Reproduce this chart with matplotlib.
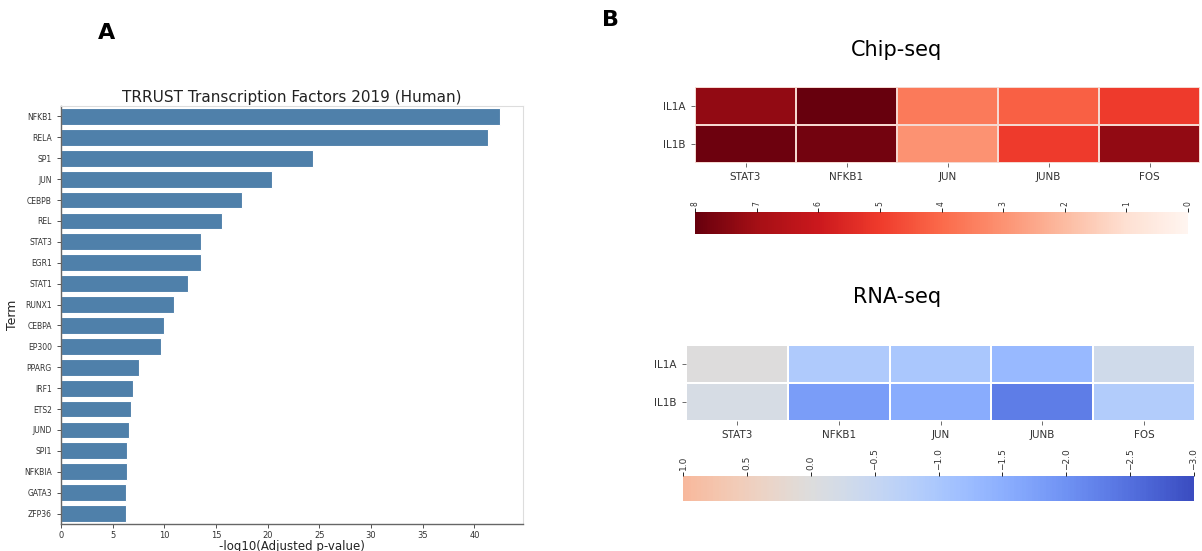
import numpy as np
import matplotlib
matplotlib.use('Agg')
import matplotlib.pyplot as plt
from matplotlib.colors import ListedColormap

# --- data ---
terms = ['NFKB1', 'RELA', 'SP1', 'JUN', 'CEBPB', 'REL', 'STAT3', 'EGR1', 'STAT1',
         'RUNX1', 'CEBPA', 'EP300', 'PPARG', 'IRF1', 'ETS2', 'JUND', 'SPI1',
         'NFKBIA', 'GATA3', 'ZFP36']
neglog_p = [42.5, 41.3, 24.4, 20.4, 17.5, 15.6, 13.5, 13.5, 12.25, 10.9,
            9.98, 9.66, 7.56, 6.98, 6.75, 6.62, 6.4, 6.37, 6.33, 6.3]

tfs = ['STAT3', 'NFKB1', 'JUN', 'JUNB', 'FOS']
genes = ['IL1A', 'IL1B']
chip_vals = [[7.3, 8.0, 3.6, 4.2, 5.0],
             [7.9, 7.8, 3.0, 5.0, 7.3]]
rna_vals = [[0.0, -0.9, -1.0, -1.3, -0.3],
            [-0.15, -1.8, -1.55, -2.3, -0.85]]

W, H = 1202, 551
fig = plt.figure(figsize=(W / 100, H / 100), dpi=100)


def box(x0, y0, x1, y1):
    # pixel box (top-left origin) -> figure fraction rect
    return [x0 / W, 1 - y1 / H, (x1 - x0) / W, (y1 - y0) / H]


# --- panel A: bar chart ---
ax = fig.add_axes(box(61, 106, 523, 524))
y = np.arange(len(terms))
ax.barh(y, neglog_p, height=0.8, color='#4f80aa', edgecolor='white', linewidth=0.8)
ax.set_yticks(y)
ax.set_yticklabels(terms, fontsize=5.5, color='#333333')
ax.set_ylim(len(terms) - 0.5, -0.5)
ax.set_xlim(0, 44.7)
ax.set_xticks(range(0, 45, 5))
ax.tick_params(axis='x', labelsize=6, colors='#333333', length=3, width=0.6, pad=2)
ax.tick_params(axis='y', length=3, width=0.6, colors='#333333')
ax.set_xlabel('-log10(Adjusted p-value)', fontsize=8.5, labelpad=0, color='#222222')
ax.set_ylabel('Term', fontsize=9, color='#222222')
ax.set_title('TRRUST Transcription Factors 2019 (Human)', fontsize=11, pad=3, color='#222222')
for s in ['top', 'right']:
    ax.spines[s].set_color('#dddddd')
for s in ['bottom', 'left']:
    ax.spines[s].set_color('#666666')
    ax.spines[s].set_linewidth(1.0)

fig.text(107 / W, 1 - 33 / H, 'A', fontsize=16, fontweight='bold', ha='center', va='center')
fig.text(611 / W, 1 - 20 / H, 'B', fontsize=16, fontweight='bold', ha='center', va='center')


def heat(rect, cbar_rect, vals, cmap, vmin, vmax, ticks, ticklabels, cb_fs, grid_color):
    hax = fig.add_axes(rect)
    im = hax.pcolormesh(np.array(vals), cmap=cmap, vmin=vmin, vmax=vmax,
                        edgecolors=grid_color, linewidth=1.2)
    hax.set_xlim(0, len(tfs))
    hax.set_ylim(len(genes), 0)
    hax.set_xticks(np.arange(len(tfs)) + 0.5)
    hax.set_xticklabels(tfs, fontsize=7.5, color='#333333')
    hax.set_yticks(np.arange(len(genes)) + 0.5)
    hax.set_yticklabels(genes, fontsize=7.5, color='#333333')
    hax.tick_params(length=3, width=0.6, colors='#555555', labelcolor='#333333')
    for s in hax.spines.values():
        s.set_visible(False)
    cax = fig.add_axes(cbar_rect)
    cb = fig.colorbar(im, cax=cax, orientation='horizontal')
    cb.outline.set_visible(False)
    cax.xaxis.set_ticks_position('top')
    cax.set_xticks(ticks)
    cax.set_xticklabels(ticklabels, rotation=90, fontsize=cb_fs, color='#333333')
    cax.tick_params(length=3, width=0.6, pad=1.5)
    cax.invert_xaxis()
    return hax


# --- panel B top: Chip-seq ---
fig.text(897 / W, 1 - 50 / H, 'Chip-seq', fontsize=15, ha='center', va='center')
chip_ticks = list(range(0, 9))
heat(box(695, 87, 1200, 163), box(695, 212, 1188, 234), chip_vals, 'Reds', 0, 8,
     chip_ticks, [str(t) for t in chip_ticks], 5.5, '#f5d8d0')

# --- panel B bottom: RNA-seq (colormap centred at 0 like seaborn) ---
fig.text(897 / W, 1 - 297 / H, 'RNA-seq', fontsize=15, ha='center', va='center')
rna_cmap = ListedColormap(plt.get_cmap('coolwarm')(np.linspace(0, 2 / 3, 256)))
rna_ticks = [1.0, 0.5, 0.0, -0.5, -1.0, -1.5, -2.0, -2.5, -3.0]
heat(box(686, 345, 1195, 421), box(683, 476, 1194, 501), rna_vals, rna_cmap, -3, 1,
     rna_ticks, [f'{t:.1f}'.replace('-', '\u2212') for t in rna_ticks], 6.5, 'white')

fig.savefig('out.png', dpi=100)
